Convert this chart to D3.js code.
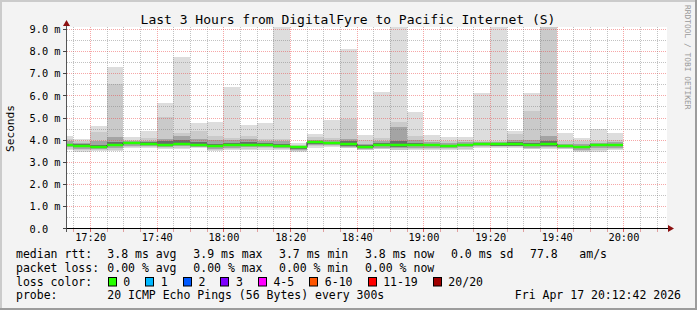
<!DOCTYPE html>
<html><head><meta charset="utf-8">
<script src="https://cdn.jsdelivr.net/npm/d3@7"></script>
<style>
body{margin:0;background:#f3f3f3}
svg{display:block}
text{font-family:"DejaVu Sans Mono",monospace}
</style>
</head><body><svg id="c" width="697" height="310"></svg>
<script>
// ---------------- data ----------------
const title = "Last 3 Hours from DigitalFyre to Pacific Internet (S)";
// bar start, minutes after 17:00 (5-minute steps)
const barStart = [10,15,20,25,30,35,40,45,50,55,60,65,70,75,80,85,90,95,100,105,110,115,120,125,130,135,140,145,150,155,160,165,170,175];
// values in ms
const median  = [3.79,3.76,3.68,3.79,3.88,3.83,3.79,3.83,3.80,3.73,3.78,3.80,3.80,3.74,3.68,3.90,3.88,3.83,3.71,3.79,3.78,3.79,3.78,3.74,3.79,3.83,3.82,3.82,3.77,3.83,3.73,3.71,3.79,3.79];
const pingMax = [4.20,4.06,4.66,7.28,4.13,4.40,5.66,7.73,4.76,4.84,6.38,4.70,4.78,9.50,3.88,4.28,4.93,8.12,4.25,6.16,9.50,5.29,4.25,4.16,4.16,6.15,9.50,4.43,6.11,9.50,4.31,4.09,4.50,4.31];
const band2Hi = [4.05,3.98,4.39,6.52,4.02,4.10,5.03,4.31,4.43,4.20,4.10,4.20,4.05,4.05,3.80,4.15,4.10,4.96,4.00,4.10,4.80,4.20,4.00,3.98,4.00,3.95,3.95,4.30,5.33,9.50,3.95,3.95,3.95,4.00];
const band3Hi = [3.95,3.88,3.95,4.15,3.95,3.95,4.05,4.20,4.05,4.00,4.00,4.05,3.95,3.95,3.75,4.00,4.00,4.05,3.85,3.95,4.58,4.00,3.90,3.88,3.90,3.90,3.90,4.00,4.00,4.20,3.85,3.82,3.88,3.90];
const band4Hi = [3.85,3.82,3.78,3.90,3.92,3.90,3.95,4.00,3.90,3.85,3.88,3.90,3.88,3.85,3.72,3.95,3.94,3.95,3.78,3.88,3.95,3.88,3.84,3.80,3.84,3.86,3.86,3.90,3.88,3.95,3.78,3.76,3.82,3.84];
const band4Lo = [3.72,3.70,3.64,3.72,3.82,3.78,3.74,3.78,3.74,3.68,3.72,3.74,3.74,3.68,3.62,3.84,3.82,3.74,3.66,3.72,3.70,3.72,3.72,3.68,3.72,3.78,3.76,3.76,3.72,3.74,3.68,3.64,3.72,3.72];
const band3Lo = [3.68,3.62,3.60,3.65,3.76,3.72,3.68,3.72,3.70,3.62,3.66,3.68,3.70,3.64,3.58,3.78,3.78,3.70,3.62,3.66,3.64,3.66,3.66,3.64,3.68,3.74,3.72,3.72,3.66,3.70,3.64,3.58,3.66,3.66];
const band2Lo = [3.62,3.55,3.56,3.58,3.70,3.68,3.63,3.66,3.68,3.57,3.60,3.62,3.64,3.60,3.52,3.72,3.72,3.66,3.58,3.60,3.58,3.60,3.60,3.60,3.62,3.70,3.68,3.68,3.62,3.66,3.60,3.52,3.55,3.60];
const pingMin = [3.58,3.46,3.53,3.53,3.65,3.65,3.60,3.60,3.65,3.53,3.56,3.58,3.58,3.56,3.48,3.65,3.68,3.63,3.55,3.60,3.55,3.55,3.55,3.57,3.58,3.66,3.64,3.64,3.60,3.62,3.62,3.48,3.48,3.55];

const yTicks = [0,1,2,3,4,5,6,7,8,9];
const yTickLabels = ["0.0","1.0 m","2.0 m","3.0 m","4.0 m","5.0 m","6.0 m","7.0 m","8.0 m","9.0 m"];
const xTicks = [20,40,60,80,100,120,140,160,180];
const xTickLabels = ["17:20","17:40","18:00","18:20","18:40","19:00","19:20","19:40","20:00"];

const lossLabels = ["0","1","2","3","4-5","6-10","11-19","20/20"];
const lossColors = ["#26ff00","#00b8ff","#0059ff","#7e00ff","#ff00ff","#ff5500","#ff0000","#a00000"];

const statRtt  = ["3.8 ms avg","3.9 ms max","3.7 ms min","3.8 ms now","0.0 ms sd","77.8","am/s"];
const statLoss = ["0.00 % avg","0.00 % max","0.00 % min","0.00 % now"];
const probeText = "20 ICMP Echo Pings (56 Bytes) every 300s";
const dateText = "Fri Apr 17 20:12:42 2026";

// ---------------- drawing ----------------
const W = 697, H = 310;
const svg = d3.select("#c");
svg.append("rect").attr("width", W).attr("height", H).attr("fill", "#f3f3f3");
svg.append("rect").attr("x",0).attr("y",0).attr("width",W).attr("height",2).attr("fill","#cbcbcb");
svg.append("rect").attr("x",0).attr("y",0).attr("width",2).attr("height",H).attr("fill","#cbcbcb");
svg.append("rect").attr("x",0).attr("y",H-2).attr("width",W).attr("height",2).attr("fill","#9c9c9c");
svg.append("rect").attr("x",W-2).attr("y",0).attr("width",2).attr("height",H).attr("fill","#9c9c9c");

const x = d3.scaleLinear().domain([12.7, 192.7]).range([66, 666]);
const y = d3.scaleLinear().domain([0, 9]).range([228.9, 29.3]);
const px = v => Math.floor(v) + 0.5;

// canvas
svg.append("rect").attr("x", 67).attr("y", 27).attr("width", 600).attr("height", 202).attr("fill", "#ffffff");

svg.append("defs").append("clipPath").attr("id","clip")
  .append("rect").attr("x", 67).attr("y", 27).attr("width", 600).attr("height", 202);

const plot = svg.append("g").attr("clip-path","url(#clip)");

const layers = [
  {lo: pingMin, hi: pingMax, c: "#dddddd"},
  {lo: band2Lo, hi: band2Hi, c: "#cacaca"},
  {lo: band3Lo, hi: band3Hi, c: "#a4a4a4"},
  {lo: band4Lo, hi: band4Hi, c: "#6b6b6b"}
];
const bx0 = i => Math.floor(x(barStart[i]));
const bx1 = i => Math.floor(x(barStart[i] + 5));
layers.forEach(L => {
  plot.append("g").selectAll("rect").data(barStart).join("rect")
    .attr("x", (d,i) => bx0(i))
    .attr("width", (d,i) => bx1(i) - bx0(i))
    .attr("y", (d,i) => Math.round(y(L.hi[i])))
    .attr("height", (d,i) => Math.max(1, Math.round(y(L.lo[i])) - Math.round(y(L.hi[i]))))
    .attr("fill", L.c);
});

// median: dark step line + green loss-coloured segments
let dPath = "";
barStart.forEach((d,i) => {
  const yy = Math.round(y(median[i]));
  dPath += (i === 0 ? "M" : "L") + bx0(i) + "," + yy + "L" + bx1(i) + "," + yy;
});
plot.append("path").attr("d", dPath).attr("fill","none").attr("stroke","#202020").attr("stroke-width",1);
plot.append("g").selectAll("line").data(barStart).join("line")
  .attr("x1", (d,i) => bx0(i)).attr("x2", (d,i) => bx1(i))
  .attr("y1", (d,i) => Math.round(y(median[i]))).attr("y2", (d,i) => Math.round(y(median[i])))
  .attr("stroke", lossColors[0]).attr("stroke-width", 2.5);

// grid (on top, semi transparent, dotted)
const grid = svg.append("g").attr("shape-rendering","crispEdges");
const minorY = d3.range(1, 19).map(k => k / 2);
minorY.forEach(v => {
  const major = Number.isInteger(v);
  grid.append("line").attr("x1", 67).attr("x2", 667).attr("y1", px(y(v))).attr("y2", px(y(v)))
    .attr("stroke", major ? "rgba(235,60,60,0.45)" : "rgba(120,120,120,0.45)")
    .attr("stroke-dasharray","1,1");
});
const minorX = d3.range(15, 195, 5);
minorX.forEach(t => {
  const major = t % 20 === 0;
  grid.append("line").attr("x1", px(x(t))).attr("x2", px(x(t))).attr("y1", 27).attr("y2", 228)
    .attr("stroke", major ? "rgba(235,60,60,0.45)" : "rgba(120,120,120,0.45)")
    .attr("stroke-dasharray","1,1");
});

// axes
const ax = svg.append("g").attr("shape-rendering","crispEdges");
ax.append("line").attr("x1", 63).attr("x2", 670).attr("y1", px(y(0))).attr("y2", px(y(0))).attr("stroke","#000");
ax.append("line").attr("x1", px(66.5)).attr("x2", px(66.5)).attr("y1", 24).attr("y2", 232).attr("stroke","#555");
// ticks on y axis
yTicks.forEach(v => {
  ax.append("line").attr("x1", 63).attr("x2", 67).attr("y1", px(y(v))).attr("y2", px(y(v))).attr("stroke","#444");
});
// ticks on x axis
minorX.forEach(t => {
  const major = t % 20 === 0;
  ax.append("line").attr("x1", px(x(t))).attr("x2", px(x(t))).attr("y1", 229).attr("y2", 232)
    .attr("stroke", major ? "#e06060" : "#e0a0a0");
});
// arrows
svg.append("path").attr("d", "M63,26L66.5,20L70,26Z").attr("fill","#8b1010");
svg.append("path").attr("d", "M668,225L674,228.5L668,232Z").attr("fill","#8b1010");

// tick labels
svg.append("g").selectAll("text").data(yTicks).join("text")
  .attr("x", 29.5).attr("y", d => y(d) + 3.7)
  .attr("font-size", "10.3px").attr("fill","#000")
  .text((d,i) => yTickLabels[i]);
svg.append("g").selectAll("text").data(xTicks).join("text")
  .attr("x", d => x(d) + 0.3).attr("y", 241).attr("text-anchor","middle")
  .attr("font-size", "10.3px").attr("fill","#000")
  .text((d,i) => xTickLabels[i]);

// title
svg.append("text").attr("x", 348).attr("y", 23.5).attr("text-anchor","middle")
  .attr("font-size","13px").attr("fill","#000").text(title);

// y label
svg.append("text").attr("transform","translate(13.5,128.5) rotate(-90)").attr("text-anchor","middle")
  .attr("font-size","11.2px").attr("fill","#000").text("Seconds");

// watermark
svg.append("text").attr("transform","translate(685,5) rotate(90)").attr("text-anchor","start")
  .attr("font-size","7.9px").attr("fill","#999").text("RRDTOOL / TOBI OETIKER");

// legend
const lf = "11.5px";
const leg = svg.append("g").attr("font-size", lf).attr("fill","#000").attr("xml:space","preserve");
const row = [258, 271.7, 285.5, 299];
leg.append("text").attr("x",16).attr("y",row[0]).text("median rtt:");
const rttX = [107.3,193.3,279,365,451,530,579.3];
statRtt.forEach((s,i) => leg.append("text").attr("x", rttX[i]).attr("y", row[0]).text(s));
leg.append("text").attr("x",16).attr("y",row[1]).text("packet loss:");
const lossX = [107.3,193.3,279,365];
statLoss.forEach((s,i) => leg.append("text").attr("x", lossX[i]).attr("y", row[1]).text(s));
leg.append("text").attr("x",16).attr("y",row[2]).text("loss color:");
let sx = 108.3;
lossLabels.forEach((lab,i) => {
  leg.append("rect").attr("x", Math.floor(sx)+0.5).attr("y", 277.5).attr("width", 8).attr("height", 8.5)
    .attr("fill", lossColors[i]).attr("stroke","#000").attr("stroke-width",1);
  const t = leg.append("text").attr("x", sx + 15).attr("y", row[2]).text(lab);
  sx = sx + 15 + t.node().getComputedTextLength() + 15.6;
});
leg.append("text").attr("x",16).attr("y",row[3]).text("probe:");
leg.append("text").attr("x",107.3).attr("y",row[3]).text(probeText);
leg.append("text").attr("x",681).attr("y",row[3]).attr("text-anchor","end").text(dateText);
</script>
</body></html>
